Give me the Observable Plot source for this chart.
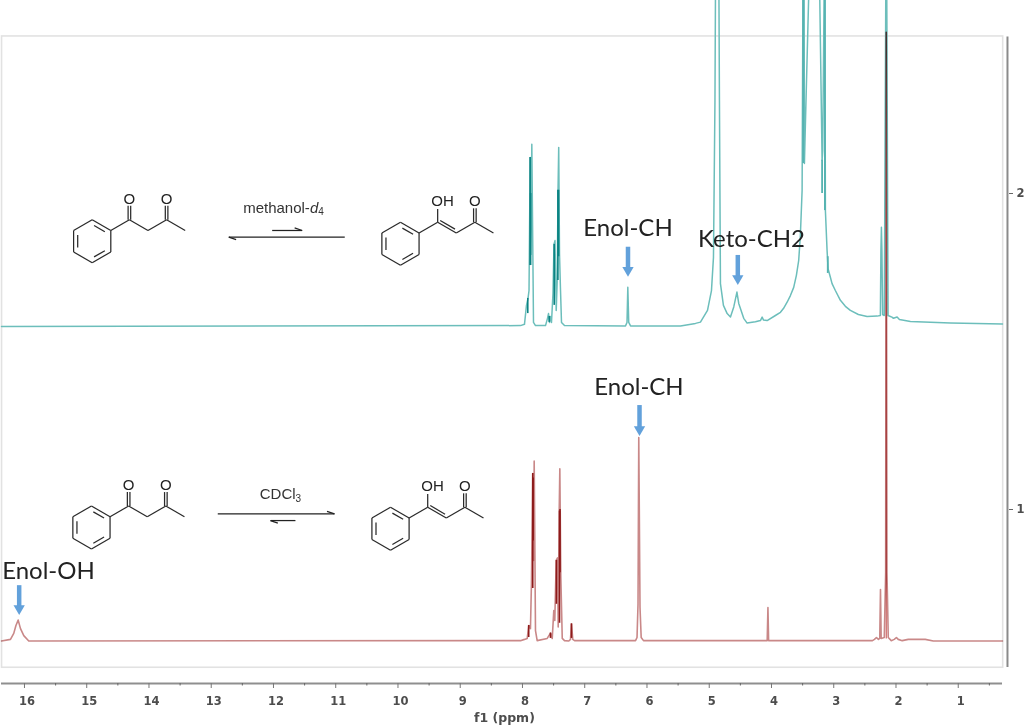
<!DOCTYPE html>
<html>
<head>
<meta charset="utf-8">
<script src="https://cdn.jsdelivr.net/npm/d3@7"></script>
<script src="https://cdn.jsdelivr.net/npm/@observablehq/plot@0.6"></script>
<style>html,body{margin:0;padding:0;background:#fff}svg{display:block}</style>
</head>
<body>
<div id="chart"></div>
<script>
// Methanol-d4 spectrum (upper trace)
const tealPpm = [16.369,8.032,7.968,7.936,7.911,7.895,7.876,7.865,7.850,7.823,7.791,7.630,7.598,7.582,7.566,7.550,7.534,7.510,7.494,7.478,7.458,7.442,7.429,7.418,7.405,7.389,7.373,7.325,6.345,6.321,6.308,6.293,6.264,5.462,5.221,5.141,5.028,4.964,4.932,4.908,4.900,4.844,4.836,4.820,4.772,4.712,4.659,4.606,4.555,4.526,4.446,4.391,4.258,4.178,4.150,4.130,4.070,3.937,3.856,3.808,3.749,3.696,3.643,3.600,3.563,3.536,3.508,3.495,3.476,3.471,3.463,3.402,3.225,3.187,3.177,3.155,3.142,3.134,3.107,3.091,3.054,3.027,2.974,2.893,2.813,2.733,2.604,2.464,2.304,2.251,2.242,2.234,2.226,2.215,2.188,2.164,2.148,2.127,2.057,2.041,1.982,1.945,1.768,1.126,0.289];
const tealInt = [1.579,1.582,1.586,1.646,1.668,1.693,2.114,1.807,2.156,1.592,1.582,1.582,1.605,1.620,1.592,1.611,1.592,1.684,1.839,1.851,1.630,1.725,2.010,2.146,1.807,1.693,1.592,1.582,1.581,1.592,1.703,1.592,1.581,1.581,1.589,1.593,1.630,1.693,1.798,2.294,2.627,2.627,2.294,1.715,1.646,1.620,1.609,1.641,1.688,1.652,1.605,1.590,1.594,1.598,1.609,1.600,1.598,1.614,1.624,1.636,1.656,1.677,1.703,1.741,1.788,1.867,2.010,2.627,2.627,2.095,2.158,2.627,2.627,2.105,2.136,2.627,2.627,1.946,1.820,1.762,1.735,1.715,1.693,1.662,1.643,1.630,1.617,1.611,1.612,1.614,1.820,1.893,1.820,1.617,1.614,2.627,2.627,1.614,1.608,1.605,1.609,1.601,1.595,1.590,1.587];
// CDCl3 spectrum (lower trace)
const redPpm = [16.369,16.225,16.172,16.137,16.101,16.064,16.011,15.931,8.032,7.968,7.924,7.899,7.872,7.856,7.835,7.823,7.812,7.791,7.764,7.603,7.550,7.522,7.497,7.481,7.458,7.437,7.426,7.410,7.400,7.384,7.361,7.325,7.256,7.229,7.213,7.192,7.164,6.184,6.160,6.144,6.132,6.112,6.093,6.056,4.069,4.057,4.046,2.378,2.346,2.314,2.282,2.261,2.249,2.238,2.188,2.166,2.156,2.145,2.124,2.076,2.028,1.993,1.964,1.900,1.803,1.530,1.400,0.289];
const redInt = [0.584,0.589,0.608,0.633,0.650,0.623,0.601,0.584,0.585,0.589,0.592,0.633,0.623,0.766,1.114,0.839,1.153,0.617,0.585,0.592,0.609,0.592,0.680,0.649,0.839,0.847,0.628,0.995,1.129,0.786,0.592,0.585,0.584,0.589,0.638,0.589,0.585,0.585,0.595,0.700,1.228,0.690,0.595,0.585,0.585,0.690,0.585,0.585,0.589,0.595,0.589,0.592,0.747,0.592,0.595,0.800,2.510,0.800,0.595,0.585,0.589,0.595,0.589,0.585,0.589,0.589,0.584,0.584];
// dense multiplet cores, drawn darker
const tealCorePpm = [7.915,7.877,7.869,7.570,7.490,7.431,7.420];
const tealCoreLo = [1.620,1.772,1.772,1.592,1.646,1.725,1.800];
const tealCoreHi = [1.668,2.114,2.000,1.611,1.839,2.010,2.010];
const tealTallPpm = [3.490,3.142,3.096,3.187];
const tealTallLo = [2.095,1.946,1.747,2.000];
const tealTallHi = [2.627,2.627,1.800,2.105];
const redCorePpm = [7.900,7.835,7.829,7.550,7.405,7.397,7.213,7.455];
const redCoreLo = [0.595,0.750,0.900,0.592,0.640,0.800,0.592,0.700];
const redCoreHi = [0.633,1.114,1.100,0.609,0.995,1.000,0.638,0.839];
const solventPeakPpm = [2.156];
const solventPeakLo = [0.590];
const solventPeakHi = [2.510];
// text
const calloutText = ["Enol-CH","Keto-CH2","Enol-CH","Enol-OH"];
const calloutPpm = [6.305,4.321,6.129,15.614];
const calloutInt = [1.889,1.854,1.386,0.804];
const arrowPpm = [6.305,4.541,6.120,16.085];
const arrowTop = [1.830,1.804,1.329,0.759];
const arrowTip = [1.757,1.731,1.253,0.687];
const xTicks = [1,2,3,4,5,6,7,8,9,10,11,12,13,14,15,16];
const xMinor = [1.5,2.5,3.5,4.5,5.5,6.5,7.5,8.5,9.5,10.5,11.5,12.5,13.5,14.5,15.5,0.5];
const yTicks = [1,2];

// structure drawings: skeletons in bond-length units, y downward, ring centre at the origin
const ring = [[0,-1],[.866,-.5],[.866,.5],[0,1],[-.866,.5],[-.866,-.5]];
const single = (x1,y1,x2,y2) => ({x1,y1,x2,y2});
const ringBonds = ring.map((a,i)=>single(a[0],a[1],ring[(i+1)%6][0],ring[(i+1)%6][1]));
const ringInner = [0,2,4].map(i=>{const a=ring[i],b=ring[(i+1)%6],k=.78,t=.13;
  return single((a[0]+(b[0]-a[0])*t)*k,(a[1]+(b[1]-a[1])*t)*k,(b[0]+(a[0]-b[0])*t)*k,(b[1]+(a[1]-b[1])*t)*k);});
const ketoBonds = [...ringBonds,...ringInner,
  single(.866,-.5,1.732,-1),single(1.732,-1,2.598,-.5),single(2.598,-.5,3.464,-1),single(3.464,-1,4.33,-.5),
  single(1.672,-1,1.672,-1.65),single(1.792,-1,1.792,-1.65),single(3.404,-1,3.404,-1.65),single(3.524,-1,3.524,-1.65)];
const enolBonds = [...ringBonds,...ringInner,
  single(.866,-.5,1.732,-1),single(1.732,-1,2.598,-.5),single(1.85,-1.08,2.54,-.68),single(2.598,-.5,3.464,-1),single(3.464,-1,4.33,-.5),
  single(1.732,-1,1.732,-1.62),single(3.404,-1,3.404,-1.65),single(3.524,-1,3.524,-1.65)];
const kx = 0.345, ky = 0.068; // one bond length in ppm and in intensity units
const place = (bonds,cx,cy) => bonds.map(b=>({x1:cx-b.x1*kx,x2:cx-b.x2*kx,y1:cy-b.y1*ky,y2:cy-b.y2*ky}));
const structureBonds = [
  ...place(ketoBonds,14.912,1.849),...place(ketoBonds,14.924,0.943),
  ...place(enolBonds,9.960,1.841),...place(enolBonds,10.120,0.939)];
const atomLabels = [
  {t:"O",x:14.912-1.732*kx,y:1.849+1.96*ky},{t:"O",x:14.912-3.464*kx,y:1.849+1.96*ky},
  {t:"O",x:14.924-1.732*kx,y:0.943+1.96*ky},{t:"O",x:14.924-3.464*kx,y:0.943+1.96*ky},
  {t:"OH",x:9.960-1.96*kx,y:1.841+1.96*ky},{t:"O",x:9.960-3.464*kx,y:1.841+1.96*ky},
  {t:"OH",x:10.120-1.96*kx,y:0.939+1.96*ky},{t:"O",x:10.120-3.464*kx,y:0.939+1.96*ky}];
// equilibrium harpoons
const harpoons = [
  {x1:10.855,x2:12.718,y1:1.862,y2:1.862},{x1:12.718,x2:12.60,y1:1.862,y2:1.854},
  {x1:12.021,x2:11.539,y1:1.883,y2:1.883},{x1:11.539,x2:11.66,y1:1.883,y2:1.891},
  {x1:12.895,x2:11.020,y1:0.986,y2:0.986},{x1:11.020,x2:11.14,y1:0.986,y2:0.994},
  {x1:11.647,x2:12.048,y1:0.965,y2:0.965},{x1:12.048,x2:11.93,y1:0.965,y2:0.957}];
const solventText = [
  {t:"methanol-",x:12.487,y:1.953,s:15},{t:"4",x:11.282,y:1.943,s:10},
  {t:"CDCl",x:12.220,y:1.047,s:15},{t:"3",x:11.645,y:1.035,s:10}];
const solventItalic = [{t:"d",x:11.415,y:1.953}];

const chart = Plot.plot({
  width:1024, height:725,
  marginLeft:1, marginRight:22, marginTop:0, marginBottom:42,
  style:{background:"#fff", filter:"blur(0.55px)", maxWidth:"none"},
  x:{domain:[16.369,0.289]},
  y:{domain:[0.4494,2.6108]},
  marks:[
    // frame of the spectrum pane
    Plot.rect([0],{x1:()=>16.36,x2:()=>0.278,y1:()=>0.4992,y2:()=>2.497,stroke:"#e2e2e2",strokeWidth:1.6,fill:"none"}),
    // lower axis
    Plot.ruleY([0.4494],{x1:16.369,x2:0.289,stroke:"#8f8f8f",strokeWidth:2}),
    Plot.axisX(xMinor,{anchor:"bottom",tickSize:2.5,fill:"none",stroke:"#666",label:null}),
    Plot.axisX(xTicks,{anchor:"bottom",tickSize:5,tickPadding:8,dx:2.5,stroke:"none",fill:"#4d4d4d",fontFamily:"DejaVu Sans",fontWeight:"bold",fontSize:11.5,tickFormat:d=>String(d),label:null}),
    Plot.axisX(xTicks,{anchor:"bottom",tickSize:5,fill:"none",stroke:"#777",label:null}),
    Plot.text(["f1 (ppm)"],{x:[8.29],y:[0.4494],dy:34,fontFamily:"DejaVu Sans",fontWeight:"bold",fontSize:12.5,fill:"#4d4d4d"}),
    // right axis
    Plot.ruleX([0.209],{y1:0.5,y2:2.495,stroke:"#8a8a8a",strokeWidth:2}),
    Plot.axisY(yTicks,{anchor:"right",dx:6,tickSize:4,tickPadding:4,fontFamily:"DejaVu Sans",fontWeight:"bold",fontSize:11.5,fill:"#4d4d4d",stroke:"#666",tickFormat:d=>String(d),label:null}),
    // spectra
    Plot.line(tealPpm,{x:tealPpm,y:tealInt,stroke:"#6cbebb",strokeWidth:1.5}),
    Plot.ruleX(tealTallPpm,{x:tealTallPpm,y1:tealTallLo,y2:tealTallHi,stroke:"#55b3b1",strokeWidth:1.8}),
    Plot.ruleX(tealCorePpm,{x:tealCorePpm,y1:tealCoreLo,y2:tealCoreHi,stroke:"#0b8383",strokeWidth:1.6}),
    Plot.line(redPpm,{x:redPpm,y:redInt,stroke:"#c98888",strokeWidth:1.6,mixBlendMode:"multiply"}),
    Plot.ruleX(solventPeakPpm,{x:solventPeakPpm,y1:solventPeakLo,y2:solventPeakHi,stroke:"#cf6a68",strokeWidth:1.2,mixBlendMode:"multiply"}),
    Plot.ruleX(redCorePpm,{x:redCorePpm,y1:redCoreLo,y2:redCoreHi,stroke:"#8e1b1b",strokeWidth:1.6}),
    // structures
    Plot.link(structureBonds,{x1:"x1",y1:"y1",x2:"x2",y2:"y2",stroke:"#2a2a2a",strokeWidth:1.25}),
    Plot.link(harpoons,{x1:"x1",y1:"y1",x2:"x2",y2:"y2",stroke:"#222",strokeWidth:1.25}),
    Plot.text(atomLabels,{x:"x",y:"y",text:"t",fontFamily:"Liberation Sans",fontSize:15,fill:"#222"}),
    Plot.text(solventText,{x:"x",y:"y",text:"t",textAnchor:"start",fontFamily:"Liberation Sans",fontSize:"s",fill:"#333"}),
    Plot.text(solventItalic,{x:"x",y:"y",text:"t",textAnchor:"start",fontFamily:"Liberation Sans",fontSize:15,fontStyle:"italic",fill:"#333"}),
    // callouts
    Plot.text(calloutText,{x:calloutPpm,y:calloutInt,text:calloutText,fontFamily:"Lato",fontSize:24,fill:"#222"}),
    Plot.ruleX(arrowPpm,{x:arrowPpm,y1:arrowTop,y2:arrowTip,stroke:"#62a1db",strokeWidth:4.5}),
    Plot.dot(arrowPpm,{x:arrowPpm,y:arrowTip,symbol:"triangle",r:4.2,rotate:180,fill:"#62a1db",stroke:"none"})
  ]
});
document.getElementById("chart").appendChild(chart);
</script>
</body>
</html>
